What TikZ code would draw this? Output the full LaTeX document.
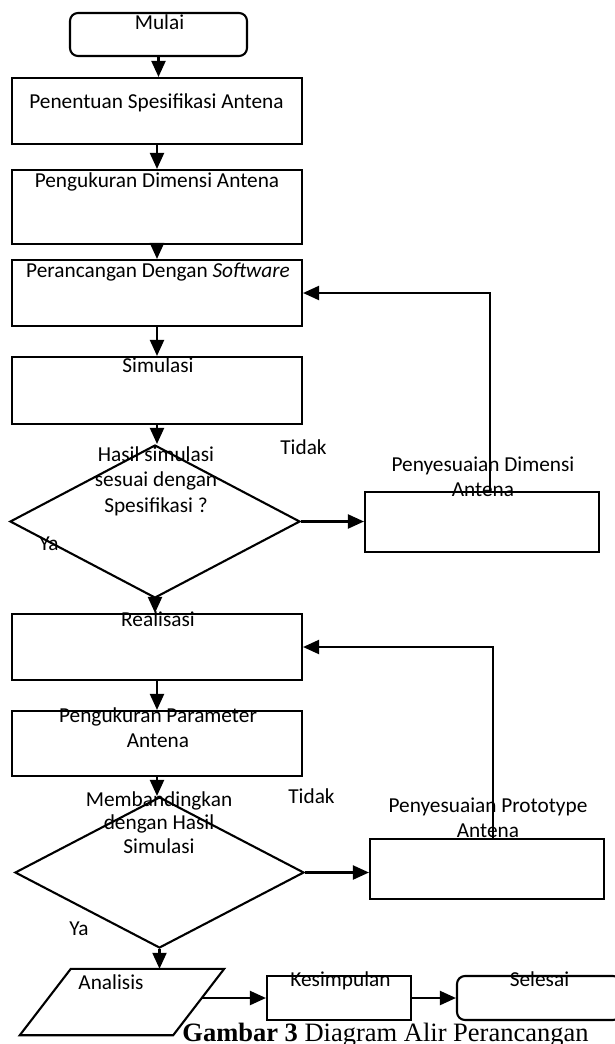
\documentclass[tikz,border=0pt]{standalone}
\usepackage{fontspec}
\setmainfont{Carlito}
\newfontfamily\timesfont{Liberation Serif}
\usetikzlibrary{shapes.geometric, arrows.meta}
\definecolor{garis}{HTML}{000000}

\tikzset{
	kotak/.style={draw=garis, line width=2.1pt, fill=white, inner sep=0pt},
	ujung/.style={kotak, rounded corners=8pt},
	belah/.style={kotak, diamond},
	teks/.style={anchor=base, inner sep=0pt, align=center, font=\fontsize{21.3}{25}\selectfont},
	panah/.style={draw=garis, line width=2.1pt, -{Triangle[length=16pt, width=14pt]}}
}

\begin{document}
\begin{tikzpicture}[x=1pt, y=-1pt]
	\fill[white] (0,0) rectangle (615,1044);
	\useasboundingbox (0,0) rectangle (615,1044);

	\node[ujung, minimum width=177pt, minimum height=43pt] (mulai) at (158.5,34.5) {};
	\node[kotak, minimum width=290pt, minimum height=66pt] (spek) at (157,111) {};
	\node[kotak, minimum width=290pt, minimum height=74pt] (ukurdim) at (157,207) {};
	\node[kotak, minimum width=290pt, minimum height=66pt] (rancang) at (157,293) {};
	\node[kotak, minimum width=290pt, minimum height=67pt] (simulasi) at (157,390.5) {};
	\node[belah, minimum width=290pt, minimum height=153pt] (cek1) at (155,521.5) {};
	\node[kotak, minimum width=234pt, minimum height=60pt] (sesuaidim) at (482,522) {};
	\node[kotak, minimum width=290pt, minimum height=66pt] (realisasi) at (157,647) {};
	\node[kotak, minimum width=290pt, minimum height=65pt] (ukurpar) at (157,743.5) {};
	\node[belah, minimum width=289pt, minimum height=151pt] (cek2) at (159.5,872.5) {};
	\node[kotak, minimum width=234pt, minimum height=60pt] (sesuaipro) at (487,869) {};
	\node[inner sep=0pt, minimum width=204pt, minimum height=66pt] (analisis) at (122,1002) {};
	\draw[kotak] (analisis.south west) -- ([xshift=-51pt]analisis.south east) -- (analisis.north east) -- ([xshift=51pt]analisis.north west) -- cycle;
	\node[kotak, minimum width=144pt, minimum height=44pt] (simpul) at (339,998) {};
	\node[ujung, minimum width=164pt, minimum height=44pt] (selesai) at (539,998) {};

	\draw[panah] (mulai.south) -- (mulai.south |- spek.north);
	\draw[panah] (spek) -- (ukurdim);
	\draw[panah] (ukurdim) -- (rancang);
	\draw[panah] (rancang) -- (simulasi);
	\draw[panah] (simulasi.south) -- (simulasi.south |- cek1.north);
	\draw[panah] (cek1.east) -- (cek1.east -| sesuaidim.west);
	\draw[panah] ([xshift=8pt]sesuaidim.north) |- (rancang.east);
	\draw[panah] (cek1.south) -- (cek1.south |- realisasi.north);
	\draw[panah] (realisasi) -- (ukurpar);
	\draw[panah] (ukurpar.south) -- (ukurpar.south |- cek2.north);
	\draw[panah] (cek2.east) -- (cek2.east -| sesuaipro.west);
	\draw[panah] ([xshift=6pt]sesuaipro.north) |- (realisasi.east);
	\draw[panah] (cek2.south) -- (cek2.south |- analisis.north);
	\draw[panah] ([xshift=-22pt]analisis.east |- simpul.west) -- (simpul.west);
	\draw[panah] (simpul) -- (selesai);

	\node[teks] (t-mulai) at (159.5,29) {Mulai};
	\node[teks] (t-spek) at (156.5,108) {Penentuan Spesifikasi Antena};
	\node[teks] (t-ukurdim) at (157,187) {Pengukuran Dimensi Antena};
	\node[teks] (t-rancang) at (158,277) {Perancangan Dengan \textit{Software}};
	\node[teks] (t-sim) at (158,372) {Simulasi};
	\node[teks, font=\fontsize{21.3}{25.5}\selectfont] (t-cek1) at (156,512) {Hasil simulasi\\sesuai dengan\\Spesifikasi ?};
	\node[teks] (t-tidak1) at (303.5,454) {Tidak};
	\node[teks] (t-ya1) at (49,550) {Ya};
	\node[teks] (t-sesuaidim) at (483,496) {Penyesuaian Dimensi\\Antena};
	\node[teks] (t-real) at (158,626) {Realisasi};
	\node[teks] (t-ukurpar) at (158,747) {Pengukuran Parameter\\Antena};
	\node[teks, font=\fontsize{21.3}{23.5}\selectfont] (t-cek2) at (159,853) {Membandingkan\\dengan Hasil\\Simulasi};
	\node[teks] (t-tidak2) at (311.5,803) {Tidak};
	\node[teks] (t-sesuaipro) at (488,837) {Penyesuaian Prototype\\Antena};
	\node[teks] (t-ya2) at (79,935) {Ya};
	\node[teks] (t-analisis) at (111,989) {Analisis};
	\node[teks] (t-simpul) at (340.5,986) {Kesimpulan};
	\node[teks] (t-selesai) at (539.5,986) {Selesai};
	\node[anchor=base, inner sep=0pt, font=\timesfont\fontsize{26.5}{30}\selectfont] (judul) at (385.5,1041) {\textbf{Gambar 3} Diagram Alir Perancangan};
\end{tikzpicture}
\end{document}
